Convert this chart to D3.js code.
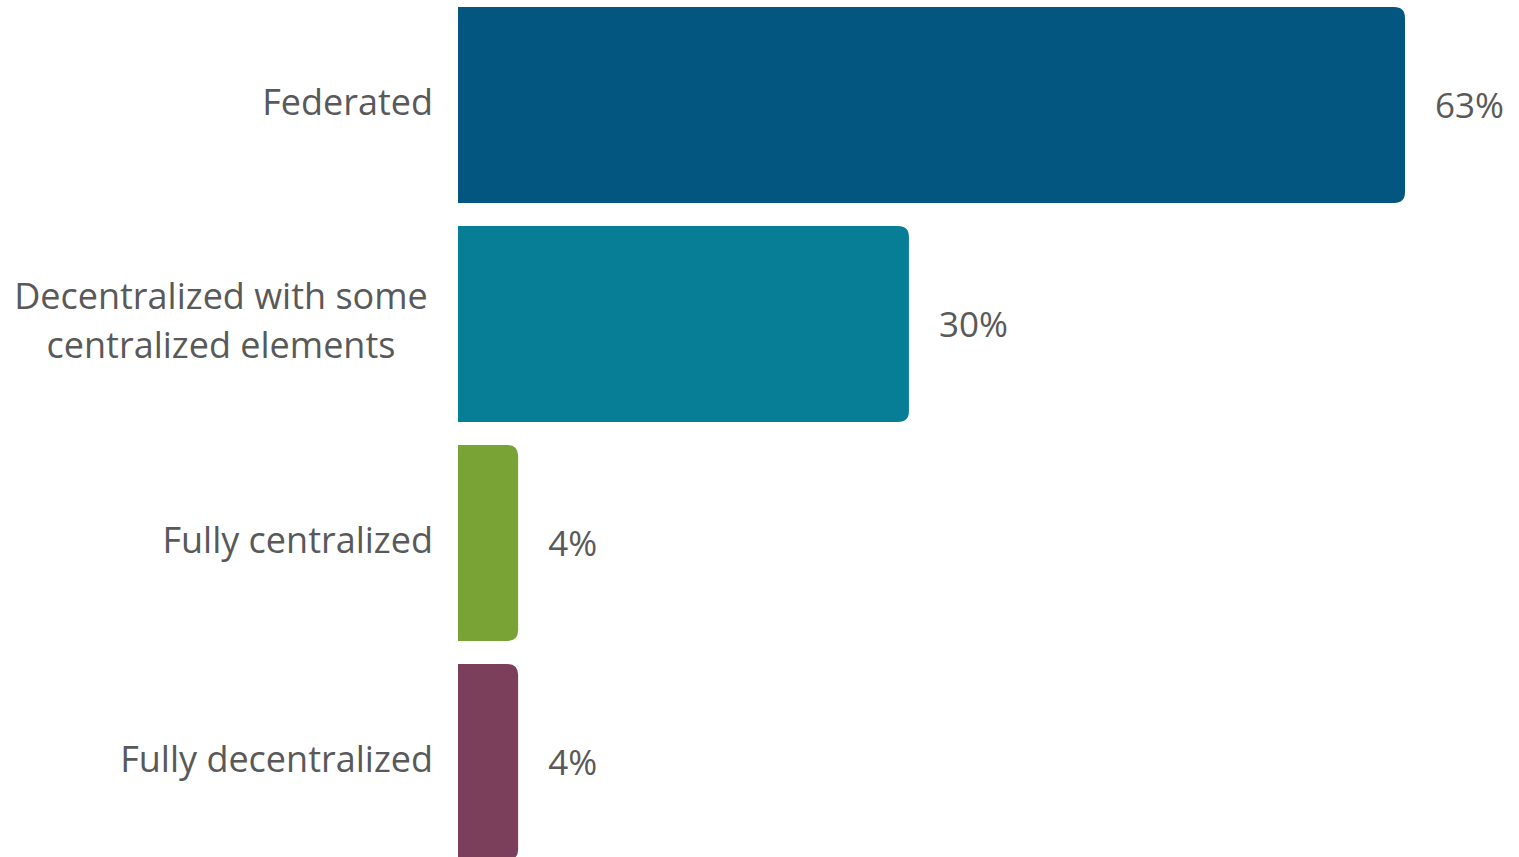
<!DOCTYPE html>
<html>
<head>
<meta charset="utf-8">
<script src="https://cdn.jsdelivr.net/npm/d3@7"></script>
<style>
html,body{margin:0;padding:0;background:#fff;overflow:hidden;}
svg{display:block;}
text{font-family:"Open Sans",sans-serif;fill:#595959;}
</style>
</head>
<body>
<svg id="chart" width="1519" height="857"></svg>
<script>
const categories = ["Federated", "Decentralized with some centralized elements", "Fully centralized", "Fully decentralized"];
const labelLines = [["Federated"], ["Decentralized with some", "centralized elements"], ["Fully centralized"], ["Fully decentralized"]];
const values = [63, 30, 4, 4];
const valueLabels = ["63%", "30%", "4%", "4%"];
const colors = ["#02567f", "#077e96", "#79a335", "#7b3f5c"];

const svg = d3.select("#chart");
const x0 = 458;
const x = d3.scaleLinear().domain([0, 63]).range([x0, 1405]);
const y = d3.scaleBand().domain(categories).range([7, 860]).paddingInner(23/219).paddingOuter(0);
const bh = y.bandwidth();
const r = 11;

function barPath(x1, y0, w, h) {
  const rr = Math.min(r, w / 2);
  return `M${x1},${y0} H${x1 + w - rr} Q${x1 + w},${y0} ${x1 + w},${y0 + rr} V${y0 + h - rr} Q${x1 + w},${y0 + h} ${x1 + w - rr},${y0 + h} H${x1} Z`;
}

categories.forEach((c, i) => {
  const y0 = y(c);
  const w = x(values[i]) - x0;
  svg.append("path").attr("d", barPath(x0, y0, w, bh)).attr("fill", colors[i]);
  const cy = y0 + bh / 2;
  const lines = labelLines[i];
  const lh = 49;
  const t = svg.append("text")
    .attr("font-size", 36)
    .attr("text-anchor", lines.length > 1 ? "middle" : "end");
  lines.forEach((ln, j) => {
    t.append("tspan")
      .attr("x", lines.length > 1 ? 221 : 433)
      .attr("y", cy - 3 + (j - (lines.length - 1) / 2) * lh)
      .attr("dy", "0.35em")
      .text(ln);
  });
  svg.append("text")
    .attr("font-size", 35)
    .attr("x", x(values[i]) + 30)
    .attr("y", cy + 1)
    .attr("dy", "0.35em")
    .text(valueLabels[i]);
});
</script>
</body>
</html>
